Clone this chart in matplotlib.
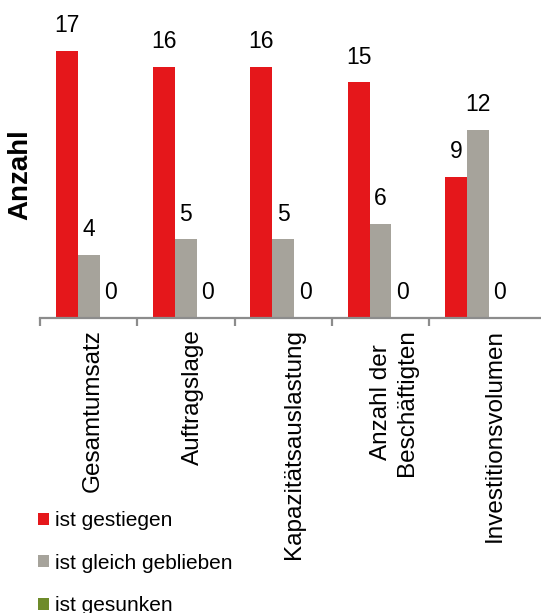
import matplotlib.pyplot as plt
import numpy as np

# categories and counts
categories = ['Gesamtumsatz', 'Auftragslage', 'Kapazitätsauslastung',
              'Anzahl der\nBeschäftigten', 'Investitionsvolumen']
gestiegen = [17, 16, 16, 15, 9]
gleich = [4, 5, 5, 6, 12]
gesunken = [0, 0, 0, 0, 0]

series_names = ['ist gestiegen', 'ist gleich geblieben', 'ist gesunken']
colors = ['#E5171B', '#A6A39B', '#6E8B2A']

plt.rcParams['font.family'] = ['Liberation Sans', 'DejaVu Sans']

fig = plt.figure(figsize=(5.41, 6.13), dpi=100)
ax = fig.add_axes([40 / 541, 1 - 318 / 613, 1 - 40 / 541, 318 / 613])

x = np.arange(len(categories))
w = 0.225
for i, (vals, name, c) in enumerate(zip([gestiegen, gleich, gesunken], series_names, colors)):
    bars = ax.bar(x + (i - 1) * w, vals, width=w, color=c, label=name)
    ax.bar_label(bars, padding=10, fontsize=16.5)

ax.set_xlim(-0.5, 4.65)
ax.set_ylim(0, 20.25)

# axis styling
for s in ['top', 'right', 'left']:
    ax.spines[s].set_visible(False)
ax.spines['bottom'].set_color('#8C8C8C')
ax.spines['bottom'].set_linewidth(1.6)
ax.set_yticks([])

# label positions drift slightly right, like in the original
ax.set_xticks(x + 0.04 + 0.033 * x)
ax.set_xticklabels(categories, rotation=90, fontsize=17.5, va='top', ha='center',
                   multialignment='center')
ax.tick_params(axis='x', which='major', length=0, pad=8)
ax.set_xticks(np.arange(-0.5, 4.0, 1.0), minor=True)
ax.tick_params(axis='x', which='minor', length=6, width=1.6, color='#8C8C8C')

fig.text(20 / 541, 1 - 175 / 613, 'Anzahl', rotation=90, fontsize=20,
         fontweight='bold', ha='center', va='center')

ax.legend(loc='upper left', bbox_to_anchor=(30 / 541, 1 - 503 / 613),
          bbox_transform=fig.transFigure, frameon=False, fontsize=15,
          handlelength=0.5, handleheight=0.5, handletextpad=0.3,
          labelspacing=1.12, borderaxespad=0)

fig.savefig('out.png', dpi=100)
